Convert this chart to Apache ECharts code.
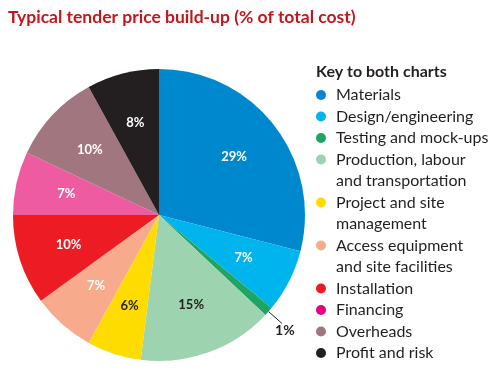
<!DOCTYPE html>
<html>
<head>
<meta charset="utf-8">
<script src="https://cdn.jsdelivr.net/npm/echarts@6/dist/echarts.min.js"></script>
<style>
html,body{margin:0;padding:0;background:#fff;}
#chart{width:499px;height:387px;}
</style>
</head>
<body>
<div id="chart"></div>
<script>
const titleText = 'Typical tender price build-up (% of total cost)';
const legendTitle = 'Key to both charts';
const categories = ['Materials','Design/engineering','Testing and mock-ups','Production, labour and transportation','Project and site management','Access equipment and site facilities','Installation','Financing','Overheads','Profit and risk'];
const legendLabels = ['Materials','Design/engineering','Testing and mock-ups','Production, labour\nand transportation','Project and site\nmanagement','Access equipment\nand site facilities','Installation','Financing','Overheads','Profit and risk'];
const values = [29,7,1,15,6,7,10,7,10,8];
const pieColors = ['#0088CE','#00B5EE','#20A464','#9DD3AE','#FFDC00','#F8AA8C','#ED1C24','#EF5BA0','#A2767F','#231F20'];
const legendColors = ['#0A84CE','#00B5EE','#20A464','#9DD3AE','#FFDC00','#F8AA8C','#ED1C24','#E6007E','#A2767F','#231F20'];
const labelDark = [false,false,false,true,true,false,false,false,false,false];

const FONT = 'Lato';
const cx = 159, cy = 215, R = 146;
const rowStart = 95, rowStep = 21.5;
const rows = [0,1,2,3,5,7,9,10,11,12];

const legends = categories.map((name, i) => {
  const twoLine = legendLabels[i].indexOf('\n') >= 0;
  const yc = rowStart + rows[i] * rowStep;
  const txt = twoLine ? '\n' + legendLabels[i] : legendLabels[i];
  return {
    show: true,
    orient: 'vertical',
    left: 316,
    top: twoLine ? yc - rowStep * 1.5 : yc - rowStep / 2,
    padding: 0,
    itemWidth: 10,
    itemHeight: 10,
    selectedMode: false,
    icon: 'circle',
    data: [{ name: name, icon: 'circle', itemStyle: { color: legendColors[i] } }],
    formatter: () => txt,
    textStyle: {
      fontFamily: FONT, fontSize: 16, color: '#231F20',
      lineHeight: rowStep,
      padding: [0, 0, 0, 5]
    }
  };
});

const chart = echarts.init(document.getElementById('chart'), null, { renderer: 'canvas' });
chart.setOption({
  animation: false,
  title: [
    { text: titleText, left: 8, top: 8, padding: 0,
      textStyle: { fontFamily: FONT, fontWeight: 'bold', fontSize: 17.5, color: '#C4161C' } },
    { text: legendTitle, left: 316, top: 64, padding: 0,
      textStyle: { fontFamily: FONT, fontWeight: 'bold', fontSize: 16, color: '#231F20' } }
  ],
  legend: legends,
  series: [
    {
      type: 'pie', name: 'pie', center: [cx, cy], radius: [0, R],
      startAngle: 90, clockwise: true, silent: true,
      label: { show: false }, labelLine: { show: false },
      itemStyle: { borderWidth: 0 },
      emphasis: { disabled: true },
      data: categories.map((n, i) => ({ name: n, value: values[i], itemStyle: { color: pieColors[i] } }))
    },
    {
      type: 'pie', name: 'labels', center: [cx, cy], radius: [38, R],
      startAngle: 90, clockwise: true, silent: true,
      itemStyle: { color: 'rgba(0,0,0,0)', borderWidth: 0 },
      emphasis: { disabled: true },
      label: { show: true, position: 'inside', formatter: '{c}%',
        fontFamily: FONT, fontWeight: 'bold', fontSize: 13, color: '#fff' },
      labelLine: { show: false },
      data: categories.map((n, i) => {
        const d = { name: n, value: values[i] };
        if (values[i] < 3) {
          d.label = { position: 'outside', color: '#231F20', fontSize: 14, lineHeight: 15,
            formatter: '\n{c}%', distanceToLabelLine: -7 };
          d.labelLine = { show: true, length: 18, length2: 0, lineStyle: { color: '#231F20', width: 1 } };
        } else if (labelDark[i]) {
          d.label = { color: '#231F20' };
        }
        return d;
      })
    }
  ]
});
</script>
</body>
</html>
